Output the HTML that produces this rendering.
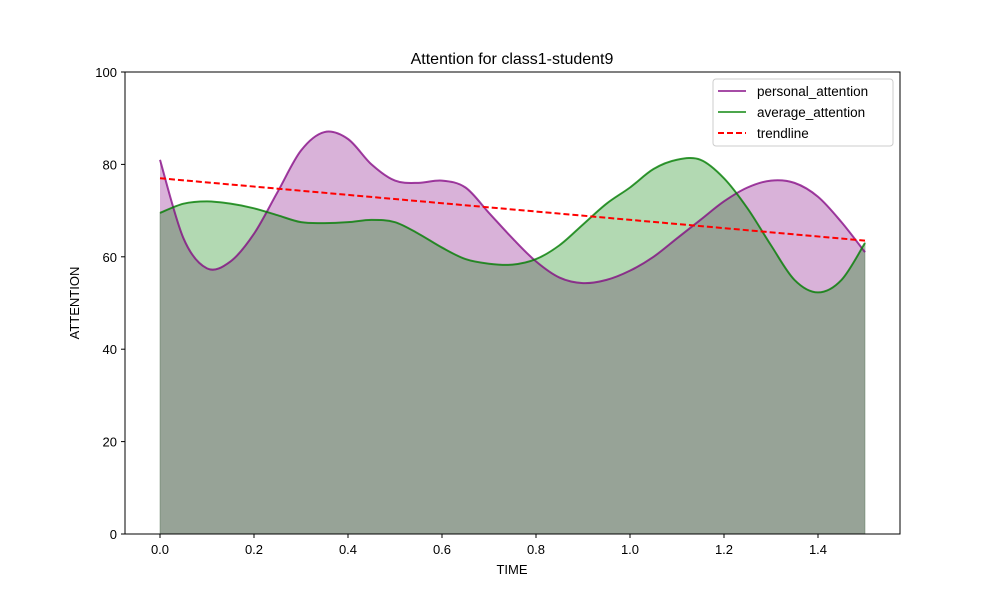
<!DOCTYPE html>
<html><head><meta charset="utf-8"><style>
html,body{margin:0;padding:0;background:#fff;}
svg{display:block;font-family:"Liberation Sans","DejaVu Sans",sans-serif;}
</style></head><body>
<svg id="chart" width="1000" height="600" xmlns="http://www.w3.org/2000/svg">
<rect width="1000" height="600" fill="#fff"/>
<g id="plot"></g>
<g id="axes"></g>
<text x="512" y="64" text-anchor="middle" font-size="16">Attention for class1-student9</text>
<text x="512" y="574" text-anchor="middle" font-size="13">TIME</text>
<text x="79" y="303" text-anchor="middle" font-size="13" transform="rotate(-90 79 303)">ATTENTION</text>
<g>
<rect x="713" y="79" width="180" height="67" rx="3" fill="#fff" fill-opacity="0.8" stroke="#ccc"/>
<line x1="718" y1="91" x2="746" y2="91" stroke="#800080" stroke-opacity="0.7" stroke-width="2"/>
<text x="757" y="96" font-size="13.5">personal_attention</text>
<line x1="718" y1="112" x2="746" y2="112" stroke="#008000" stroke-opacity="0.7" stroke-width="2"/>
<text x="757" y="117" font-size="13.5">average_attention</text>
<line x1="718" y1="133" x2="746" y2="133" stroke="#f00" stroke-width="2" stroke-dasharray="6,3"/>
<text x="757" y="138" font-size="13.5">trendline</text>
</g>
</svg>
<script>
const times=[0,0.05,0.1,0.15,0.2,0.25,0.3,0.35,0.4,0.45,0.5,0.55,0.6,0.65,0.7,0.75,0.8,0.85,0.9,0.95,1.0,1.05,1.1,1.15,1.2,1.25,1.3,1.35,1.4,1.45,1.5];
const personal=[81,64,57.5,59,65,74,83,87,85.5,80,76.5,76,76.5,75,69.5,64,59,55.5,54.3,55,57,60,64,68,72,75,76.5,76,73,67.5,61];
const average=[69.5,71.5,72,71.5,70.5,69,67.5,67.3,67.5,68,67.5,65,62,59.5,58.5,58.3,59.5,62.5,67,71.5,75,79,81,81,77,70.5,62.5,55,52.3,55,63];
const trend=[77,63.5];
const xTicks=[0,0.2,0.4,0.6,0.8,1.0,1.2,1.4];
const yTicks=[0,20,40,60,80,100];
const NS="http://www.w3.org/2000/svg";
const X=v=>160+v*470, Y=v=>534-v*4.62;
function mk(t,a,p){const e=document.createElementNS(NS,t);for(const k in a)e.setAttribute(k,a[k]);p.appendChild(e);return e;}
function smooth(xs,ys){let d=`M${X(xs[0])},${Y(ys[0])}`;
 for(let i=0;i<xs.length-1;i++){const p0=[X(xs[Math.max(0,i-1)]),Y(ys[Math.max(0,i-1)])],p1=[X(xs[i]),Y(ys[i])],p2=[X(xs[i+1]),Y(ys[i+1])],p3=[X(xs[Math.min(xs.length-1,i+2)]),Y(ys[Math.min(xs.length-1,i+2)])];
 d+=` C${p1[0]+(p2[0]-p0[0])/6},${p1[1]+(p2[1]-p0[1])/6} ${p2[0]-(p3[0]-p1[0])/6},${p2[1]-(p3[1]-p1[1])/6} ${p2[0]},${p2[1]}`;}
 return d;}
const plot=document.getElementById('plot'), axes=document.getElementById('axes');
const last=times[times.length-1];
const pl=smooth(times,personal), av=smooth(times,average);
let e;
e=mk('path',{d:pl+` L${X(last)},${Y(0)} L${X(0)},${Y(0)} Z`,fill:'#800080','fill-opacity':0.3},plot);


e=mk('path',{d:av+` L${X(last)},${Y(0)} L${X(0)},${Y(0)} Z`,fill:'#008000','fill-opacity':0.3,stroke:'#4a6a4a','stroke-opacity':0.4},plot);


e=mk('path',{d:pl,fill:'none',stroke:'#800080','stroke-opacity':0.75,'stroke-width':2},plot);


e=mk('path',{d:av,fill:'none',stroke:'#008000','stroke-opacity':0.75,'stroke-width':2},plot);


e=mk('line',{x1:X(0),y1:Y(trend[0]),x2:X(last),y2:Y(trend[1]),stroke:'#f00','stroke-width':2,'stroke-dasharray':'6,3'},plot);


e=mk('rect',{x:125,y:72,width:775,height:462,fill:'none',stroke:'#000','stroke-width':1},axes);


xTicks.forEach(t=>{const x=X(t);
 mk('line',{x1:x,y1:534,x2:x,y2:538,stroke:'#000'},axes);
 e=mk('text',{x:x,y:554,'text-anchor':'middle','font-size':13},axes);e.textContent=t.toFixed(1);
 
 });
yTicks.forEach(t=>{const y=Y(t);
 mk('line',{x1:121,y1:y,x2:125,y2:y,stroke:'#000'},axes);
 e=mk('text',{x:117,y:y+5,'text-anchor':'end','font-size':13},axes);e.textContent=t;
 
 });
</script>
</body></html>
